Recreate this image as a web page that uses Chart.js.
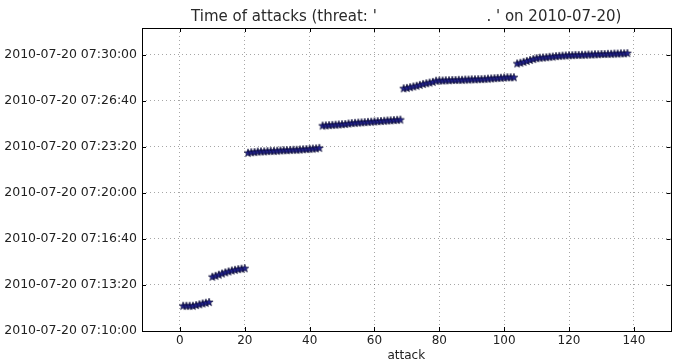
<!DOCTYPE html>
<html>
<head>
<meta charset="utf-8">
<script src="https://cdn.jsdelivr.net/npm/chart.js@4/dist/chart.umd.min.js"></script>
<style>
  html, body { margin: 0; padding: 0; background: #fff; }
  #wrap { width: 679px; height: 364px; }
</style>
</head>
<body>
<div id="wrap"><canvas id="c"></canvas></div>
<script>
// Zeitpunkte der Angriffe (Angriff 1..138)
const attackDate = "2010-07-20";
const attackTimes = [
  "07:11:50","07:11:50","07:11:50","07:11:50","07:11:53","07:11:56","07:12:00","07:12:03","07:12:06",
  "07:13:56","07:14:00","07:14:05","07:14:10","07:14:15","07:14:19","07:14:23","07:14:26","07:14:29","07:14:31","07:14:33",
  "07:22:55","07:22:57","07:22:58","07:23:00","07:23:01","07:23:01","07:23:02","07:23:03","07:23:03","07:23:04",
  "07:23:05","07:23:06","07:23:06","07:23:07","07:23:08","07:23:08","07:23:09","07:23:10","07:23:11","07:23:12",
  "07:23:13","07:23:14","07:23:16",
  "07:24:53","07:24:54","07:24:55","07:24:56","07:24:57","07:24:58","07:24:59","07:25:00","07:25:02","07:25:04",
  "07:25:05","07:25:06","07:25:07","07:25:08","07:25:09","07:25:10","07:25:11","07:25:12","07:25:13","07:25:14",
  "07:25:15","07:25:16","07:25:17","07:25:18","07:25:19",
  "07:27:35","07:27:37","07:27:40","07:27:43","07:27:46","07:27:50","07:27:54","07:27:57","07:28:00","07:28:03",
  "07:28:08","07:28:09","07:28:09","07:28:10","07:28:10","07:28:11","07:28:11","07:28:12","07:28:12","07:28:13",
  "07:28:13","07:28:14","07:28:14","07:28:15","07:28:15","07:28:16","07:28:17","07:28:18","07:28:19","07:28:20",
  "07:28:21","07:28:22","07:28:23","07:28:23","07:28:23",
  "07:29:23","07:29:26","07:29:30","07:29:34","07:29:38","07:29:42","07:29:46","07:29:48","07:29:49","07:29:50",
  "07:29:52","07:29:53","07:29:55","07:29:56","07:29:57","07:29:58","07:29:59","07:29:59","07:30:00","07:30:00",
  "07:30:01","07:30:01","07:30:02","07:30:02","07:30:03","07:30:03","07:30:04","07:30:04","07:30:05","07:30:05",
  "07:30:06","07:30:06","07:30:07","07:30:07","07:30:08"
];

// Achsen
const xTicks = [0, 20, 40, 60, 80, 100, 120, 140];
const xMin = -11.7, xMax = 151.3;
const yTickTimes = ["07:10:00", "07:13:20", "07:16:40", "07:20:00", "07:23:20", "07:26:40", "07:30:00"];
const yMinTime = "07:10:00", yMaxTime = "07:31:57";
const titleText = "Time of attacks (threat: '                       . ' on 2010-07-20)";

function toSec(t) {
  const [h, m, s] = t.split(":").map(Number);
  return h * 3600 + m * 60 + s;
}
function fmtSec(v) {
  const p = n => String(n).padStart(2, "0");
  return attackDate + " " + p(Math.floor(v / 3600)) + ":" + p(Math.floor(v / 60) % 60) + ":" + p(v % 60);
}

// Stern-Marker wie bei matplotlib '*'
function makeStar() {
  const c = document.createElement("canvas");
  c.width = 10; c.height = 10;
  const g = c.getContext("2d");
  g.beginPath();
  for (let i = 0; i < 10; i++) {
    const r = i % 2 ? 1.7 : 4.2;
    const a = -Math.PI / 2 + i * Math.PI / 5;
    const x = 5 + r * Math.cos(a), y = 5.3 + r * Math.sin(a);
    i ? g.lineTo(x, y) : g.moveTo(x, y);
  }
  g.closePath();
  g.fillStyle = "#22228c";
  g.fill();
  g.strokeStyle = "#000022";
  g.lineWidth = 0.6;
  g.stroke();
  return c;
}

const points = attackTimes.map((t, i) => ({ x: i + 1, y: toSec(t) }));

// Rahmen, Ticks nach innen, Titel über dem Plotbereich
const framePlugin = {
  id: "frame",
  afterDraw(chart) {
    const { ctx, chartArea: a, scales } = chart;
    ctx.save();
    ctx.strokeStyle = "#000";
    ctx.lineWidth = 1;
    ctx.beginPath();
    scales.x.ticks.forEach(t => {
      const px = Math.round(scales.x.getPixelForValue(t.value)) + 0.5;
      ctx.moveTo(px, a.bottom); ctx.lineTo(px, a.bottom - 4);
      ctx.moveTo(px, a.top); ctx.lineTo(px, a.top + 4);
    });
    scales.y.ticks.forEach(t => {
      const py = Math.round(scales.y.getPixelForValue(t.value)) + 0.5;
      ctx.moveTo(a.left, py); ctx.lineTo(a.left + 4, py);
      ctx.moveTo(a.right, py); ctx.lineTo(a.right - 4, py);
    });
    ctx.stroke();
    ctx.strokeRect(Math.round(a.left) + 0.5, Math.round(a.top) + 0.5,
                   Math.round(a.right - a.left), Math.round(a.bottom - a.top));
    ctx.fillStyle = "#2a2a2a";
    ctx.font = "15px 'DejaVu Sans'";
    ctx.textAlign = "center";
    ctx.textBaseline = "alphabetic";
    ctx.fillText(titleText, (a.left + a.right) / 2, 21);
    ctx.restore();
  }
};

const tickFont = { family: "'DejaVu Sans'", size: 12 };
const yTickFont = { family: "'DejaVu Sans'", size: 12.5 };

new Chart(document.getElementById("c"), {
  type: "scatter",
  data: {
    datasets: [{
      data: points,
      pointStyle: makeStar(),
      pointRadius: 5,
      showLine: false
    }]
  },
  options: {
    responsive: true,
    maintainAspectRatio: false,
    animation: false,
    events: [],
    layout: { padding: { left: 0, right: 8.5, top: 28, bottom: 0 } },
    plugins: { legend: { display: false }, tooltip: { enabled: false } },
    scales: {
      x: {
        type: "linear",
        min: xMin, max: xMax,
        afterBuildTicks: s => { s.ticks = xTicks.map(v => ({ value: v })); },
        afterFit: s => { s.height = 33; },
        ticks: { font: tickFont, color: "#222", padding: 3, maxRotation: 0 },
        grid: { color: "rgba(0,0,0,0.35)", drawTicks: false, lineWidth: 1 },
        border: { display: false, dash: [1, 3] },
        title: { display: true, text: "attack", font: tickFont, color: "#222", padding: { top: 0, bottom: 1 } }
      },
      y: {
        type: "linear",
        min: toSec(yMinTime), max: toSec(yMaxTime),
        afterBuildTicks: s => { s.ticks = yTickTimes.map(t => ({ value: toSec(t) })); },
        afterFit: s => { s.width = 142; },
        ticks: { font: yTickFont, color: "#222", padding: 5, callback: v => fmtSec(v) },
        grid: { color: "rgba(0,0,0,0.35)", drawTicks: false, lineWidth: 1 },
        border: { display: false, dash: [1, 3] }
      }
    }
  },
  plugins: [framePlugin]
});
</script>
</body>
</html>
